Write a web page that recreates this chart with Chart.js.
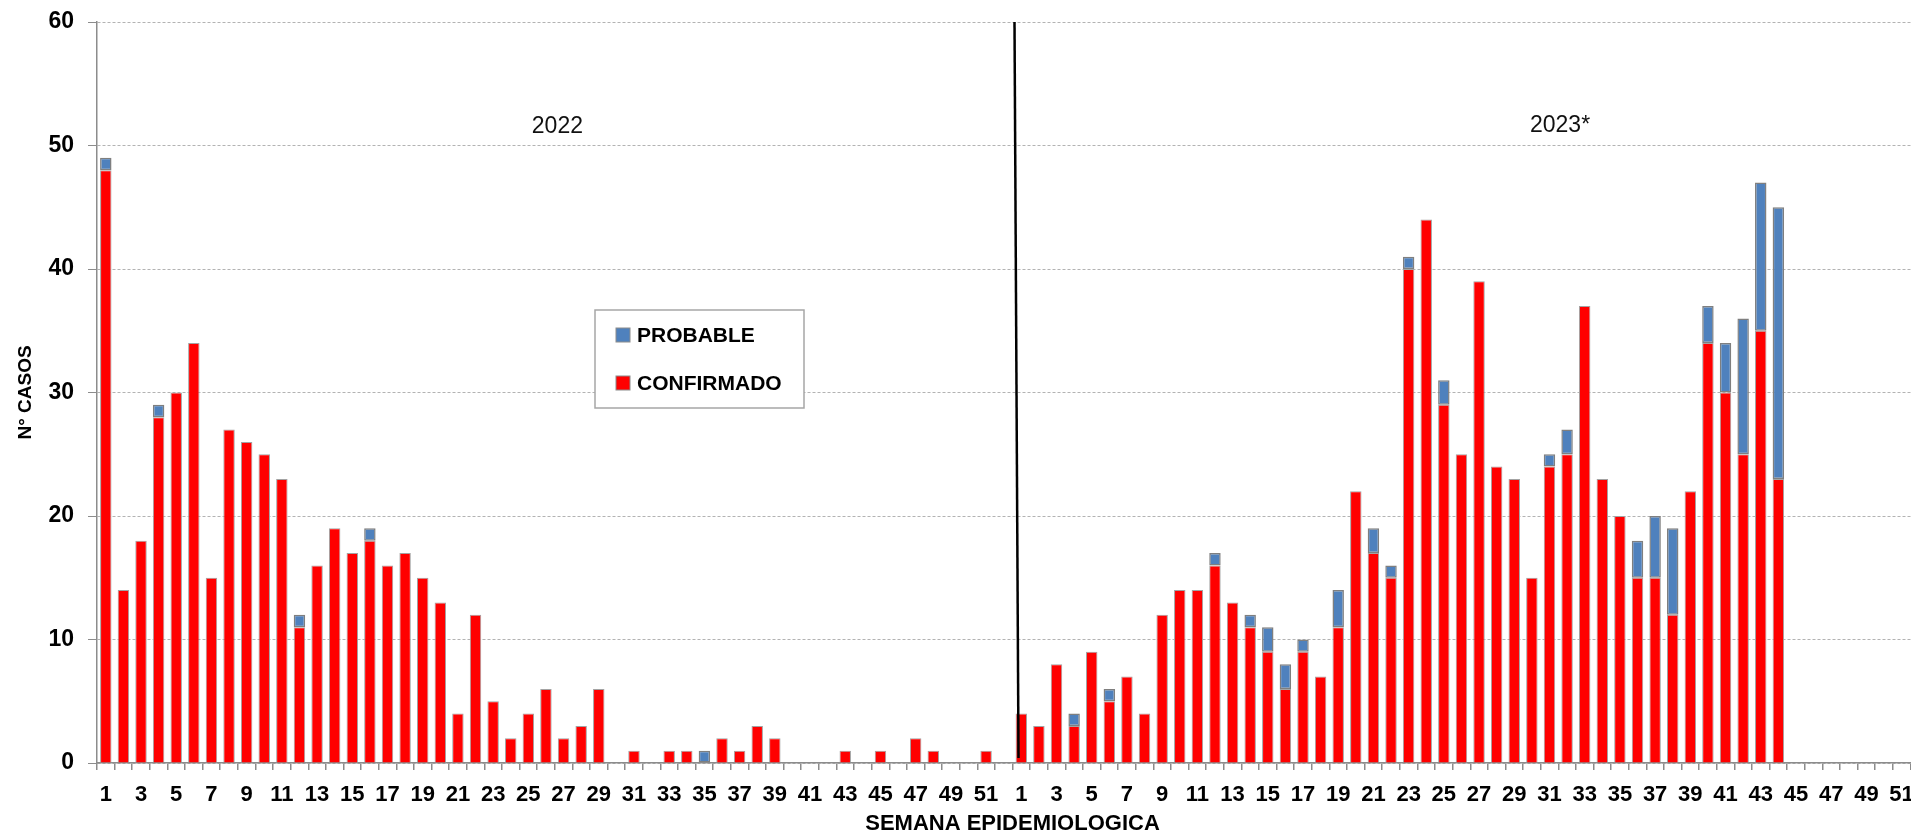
<!DOCTYPE html>
<html>
<head>
<meta charset="utf-8">
<script src="https://cdn.jsdelivr.net/npm/chart.js@4.4.1/dist/chart.umd.min.js"></script>
<style>
  html, body { margin: 0; padding: 0; background: #fff; overflow: hidden; }
  #wrap { position: absolute; left: 0; top: 0; width: 1940px; height: 834px; }
</style>
</head>
<body>
<div id="wrap"><canvas id="chart" width="1940" height="834"></canvas></div>
<script>
// ===== Datos =====
const weeks2022 = Array.from({ length: 52 }, (_, i) => String(i + 1));
const weeks2023 = Array.from({ length: 52 }, (_, i) => String(i + 1));

const confirmado2022 = [48, 14, 18, 28, 30, 34, 15, 27, 26, 25, 23, 11, 16, 19, 17, 18, 16, 17, 15, 13,
  4, 12, 5, 2, 4, 6, 2, 3, 6, 0, 1, 0, 1, 1, 0, 2, 1, 3, 2, 0,
  0, 0, 1, 0, 1, 0, 2, 1, 0, 0, 1, 0];
const probable2022 = [1, 0, 0, 1, 0, 0, 0, 0, 0, 0, 0, 1, 0, 0, 0, 1, 0, 0, 0, 0,
  0, 0, 0, 0, 0, 0, 0, 0, 0, 0, 0, 0, 0, 0, 1, 0, 0, 0, 0, 0,
  0, 0, 0, 0, 0, 0, 0, 0, 0, 0, 0, 0];

const confirmado2023 = [4, 3, 8, 3, 9, 5, 7, 4, 12, 14, 14, 16, 13, 11, 9, 6, 9, 7, 11, 22,
  17, 15, 40, 44, 29, 25, 39, 24, 23, 15, 24, 25, 37, 23, 20, 15, 15, 12, 22, 34,
  30, 25, 35, 23, null, null, null, null, null, null, null, null];
const probable2023 = [0, 0, 0, 1, 0, 1, 0, 0, 0, 0, 0, 1, 0, 1, 2, 2, 1, 0, 3, 0,
  2, 1, 1, 0, 2, 0, 0, 0, 0, 0, 1, 2, 0, 0, 0, 3, 5, 7, 0, 3,
  4, 11, 12, 22, null, null, null, null, null, null, null, null];

const yearLabels = ['2022', '2023*'];
const yTicks = [0, 10, 20, 30, 40, 50, 60];

const RED = '#ff0000';
const BLUE = '#4f81bd';
const FONT = "'Liberation Sans', Arial, sans-serif";

const labels = weeks2022.concat(weeks2023);

// ===== Línea que separa los años, textos de año y leyenda =====
const decorPlugin = {
  id: 'decor',
  afterDatasetsDraw(chart) {
    const { ctx, chartArea, scales } = chart;
    const x = scales.x;
    const y = scales.y;

    // separador 2022 / 2023
    const xb = (x.getPixelForValue(weeks2022.length - 1) + x.getPixelForValue(weeks2022.length)) / 2;
    ctx.save();
    ctx.strokeStyle = '#000';
    ctx.lineWidth = 2.5;
    ctx.beginPath();
    ctx.moveTo(xb + 2, chartArea.top);
    ctx.lineTo(xb + 6, y.getPixelForValue(0) - 5);
    ctx.stroke();

    // años
    ctx.fillStyle = '#111';
    ctx.font = '23px ' + FONT;
    ctx.textAlign = 'center';
    ctx.textBaseline = 'middle';
    ctx.fillText(yearLabels[0], x.getPixelForValue(25.65), y.getPixelForValue(51.5));
    ctx.fillText(yearLabels[1], x.getPixelForValue(82.6), y.getPixelForValue(51.6));

    // leyenda
    const bx = chartArea.left + 498;
    const by = chartArea.top + 288;
    ctx.fillStyle = '#fff';
    ctx.fillRect(bx, by, 209, 98);
    ctx.strokeStyle = '#a6a6a6';
    ctx.lineWidth = 1.5;
    ctx.strokeRect(bx, by, 209, 98);

    const items = chart.data.datasets.slice().reverse();
    ctx.font = 'bold 21px ' + FONT;
    ctx.textAlign = 'left';
    items.forEach((ds, i) => {
      const cy = by + 25 + i * 48;
      ctx.fillStyle = ds.backgroundColor;
      ctx.fillRect(bx + 21, cy - 7, 14, 14);
      ctx.strokeStyle = '#8c8c8c';
      ctx.lineWidth = 1;
      ctx.strokeRect(bx + 21, cy - 7, 14, 14);
      ctx.fillStyle = '#000';
      ctx.fillText(ds.label, bx + 42, cy + 1);
    });
    ctx.restore();
  },
};

new Chart(document.getElementById('chart'), {
  type: 'bar',
  data: {
    labels: labels,
    datasets: [
      {
        label: 'CONFIRMADO',
        data: confirmado2022.concat(confirmado2023),
        backgroundColor: RED,
        borderColor: '#a3a3a3',
        borderWidth: 1,
        borderSkipped: 'start',
        barPercentage: 0.65,
        categoryPercentage: 1,
      },
      {
        label: 'PROBABLE',
        data: probable2022.concat(probable2023),
        backgroundColor: BLUE,
        borderColor: '#7f7f7f',
        borderWidth: 1.5,
        borderSkipped: false,
        barPercentage: 0.65,
        categoryPercentage: 1,
      },
    ],
  },
  options: {
    responsive: false,
    devicePixelRatio: 1,
    animation: false,
    layout: { padding: { top: 22, right: 12, left: 0, bottom: 0 } },
    plugins: {
      legend: { display: false },
      tooltip: { enabled: false },
    },
    scales: {
      x: {
        stacked: true,
        afterFit: (s) => { s.height = 71; },
        grid: { drawOnChartArea: false, tickLength: 7, color: '#8c8c8c', lineWidth: 1.5 },
        border: { color: '#8c8c8c', width: 1.5 },
        ticks: {
          autoSkip: false,
          maxRotation: 0,
          padding: 12,
          color: '#000',
          font: { family: FONT, size: 22, weight: 'bold' },
          callback: (v, i) => (i % 2 === 0 ? labels[i] : ''),
        },
        title: {
          display: true,
          text: 'SEMANA EPIDEMIOLOGICA',
          color: '#000',
          font: { family: FONT, size: 22, weight: 'bold', lineHeight: 0.9 },
          padding: 0,
        },
      },
      y: {
        stacked: true,
        min: yTicks[0],
        max: yTicks[yTicks.length - 1],
        afterFit: (s) => {
          s.width = 97;
          s.paddingTop = 0;
          s.paddingBottom = 0;
        },
        afterBuildTicks: (s) => { s.ticks = yTicks.map((v) => ({ value: v })); },
        grid: { color: '#b3b3b3', lineWidth: 1, tickLength: 9, tickColor: '#8c8c8c', tickBorderDash: [] },
        border: { color: '#8c8c8c', width: 1.5, dash: [3, 2] },
        ticks: {
          padding: 14,
          color: '#000',
          font: { family: FONT, size: 23, weight: 'bold' },
        },
        title: {
          display: true,
          text: 'N° CASOS',
          color: '#000',
          font: { family: FONT, size: 19, weight: 'bold' },
          padding: { top: 14, bottom: 0 },
        },
      },
    },
  },
  plugins: [decorPlugin],
});
</script>
</body>
</html>
